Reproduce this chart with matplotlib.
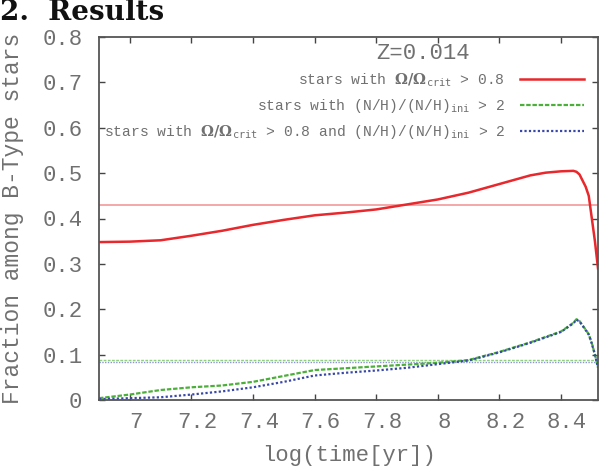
#!/usr/bin/env python3
import matplotlib
matplotlib.use("Agg")
import matplotlib.pyplot as plt
from matplotlib.ticker import FixedLocator, FuncFormatter
from matplotlib.transforms import ScaledTranslation

# log(time[yr]) grid shared by the three curves
log_t = [6.90, 7.00, 7.10, 7.20, 7.30, 7.40, 7.50, 7.60, 7.70, 7.80, 7.90,
         8.00, 8.10, 8.20, 8.30, 8.35, 8.40, 8.44, 8.45, 8.46, 8.48, 8.49,
         8.50, 8.51, 8.52]

# stars with Omega/Omega_crit > 0.8
frac_rot = [0.348, 0.349, 0.352, 0.362, 0.373, 0.386, 0.397, 0.407, 0.413,
            0.420, 0.431, 0.442, 0.457, 0.476, 0.495, 0.501, 0.504, 0.505,
            0.503, 0.497, 0.470, 0.450, 0.400, 0.350, 0.290]
# stars with (N/H)/(N/H)_ini > 2
frac_n = [0.004, 0.012, 0.022, 0.028, 0.032, 0.040, 0.053, 0.066, 0.070,
          0.074, 0.078, 0.082, 0.088, 0.106, 0.127, 0.139, 0.151, 0.170,
          0.178, 0.174, 0.155, 0.145, 0.125, 0.100, 0.072]
# both conditions
frac_both = [0.002, 0.004, 0.006, 0.012, 0.019, 0.028, 0.040, 0.054, 0.060,
             0.065, 0.071, 0.079, 0.087, 0.105, 0.126, 0.138, 0.150, 0.169,
             0.177, 0.173, 0.154, 0.144, 0.124, 0.100, 0.071]

# time-averaged fractions (horizontal lines)
mean_rot = 0.43
mean_n = 0.088
mean_both = 0.084

x_ticks = [7.0, 7.2, 7.4, 7.6, 7.8, 8.0, 8.2, 8.4]
y_ticks = [0.0, 0.1, 0.2, 0.3, 0.4, 0.5, 0.6, 0.7, 0.8]

labels = [
    r"stars with $\mathbf{\Omega/\Omega}_{\mathtt{crit}}$ > 0.8",
    r"stars with (N/H)/(N/H)$_{\mathtt{ini}}$ > 2",
    r"stars with $\mathbf{\Omega/\Omega}_{\mathtt{crit}}$ > 0.8 and "
    r"(N/H)/(N/H)$_{\mathtt{ini}}$ > 2",
]


def main():
    plt.rcParams["font.family"] = ["Liberation Mono", "DejaVu Sans Mono"]
    plt.rcParams["mathtext.fontset"] = "dejavuserif"
    grey = "#707070"

    fig = plt.figure(figsize=(6.08, 4.71), dpi=100)
    ax = fig.add_axes([99 / 608, 71 / 471, 499 / 608, 363 / 471])

    red = "#e8282c"
    green = "#4caf3a"
    blue = "#3848a8"

    # averages
    ax.axhline(mean_rot, color="#f29a9a", lw=1.2)
    ax.axhline(mean_n, color="#8fd07f", lw=1.0, ls=(0, (2, 1)))
    ax.axhline(mean_both, color="#8a94d0", lw=1.0, ls=(0, (1, 1)))

    ax.plot(log_t, frac_rot, color=red, lw=1.8, label=labels[0])
    ax.plot(log_t, frac_n, color=green, lw=1.6, ls=(0, (2, 0.8)),
            label=labels[1])
    ax.plot(log_t, frac_both, color=blue, lw=1.6, ls=(0, (1, 1)),
            label=labels[2])

    ax.set_xlim(6.90, 8.52)
    ax.set_ylim(0, 0.8)
    ax.xaxis.set_major_locator(FixedLocator(x_ticks))
    ax.yaxis.set_major_locator(FixedLocator(y_ticks))
    fmt = FuncFormatter(lambda v, p: "%g" % round(v, 2))
    ax.xaxis.set_major_formatter(fmt)
    ax.yaxis.set_major_formatter(fmt)

    ax.tick_params(direction="in", length=4, width=1.0, color="#444444",
                   top=True, right=True, labelsize=16, labelcolor=grey)
    ax.tick_params(axis="x", pad=9)
    ax.tick_params(axis="y", pad=12)
    # labels sit a little to the right of their ticks in the original
    shift = ScaledTranslation(6 / 100, 0, fig.dpi_scale_trans)
    for lab in ax.get_xticklabels():
        lab.set_transform(lab.get_transform() + shift)
    for s in ax.spines.values():
        s.set_color("#555555")
        s.set_linewidth(1.3)

    ax.text(0.649, 0.955, "Z=0.014", transform=ax.transAxes, ha="center",
            va="center", fontsize=16, color=grey)

    leg = ax.legend(loc="upper right", bbox_to_anchor=(0.972, 0.905),
                    markerfirst=False, frameon=False, fontsize=10.5,
                    handlelength=4.4, handletextpad=1.0, labelspacing=0.55,
                    borderpad=0, borderaxespad=0)
    for t in leg.get_texts():
        t.set_color(grey)

    fig.text(349 / 608, 1 - 455 / 471, "log(time[yr])", ha="center",
             va="center", fontsize=16, color=grey)
    fig.text(13 / 608, 1 - 218 / 471, "Fraction among B-Type stars",
             rotation=90, ha="center", va="center", fontsize=16.5, color=grey)

    fig.text(0.0, 1 - 20 / 471, "2.  Results", ha="left", va="baseline",
             fontsize=20, fontweight="bold", family="DejaVu Serif",
             color="#111111")

    fig.savefig("out.png", dpi=100)


if __name__ == '__main__':
    main()
